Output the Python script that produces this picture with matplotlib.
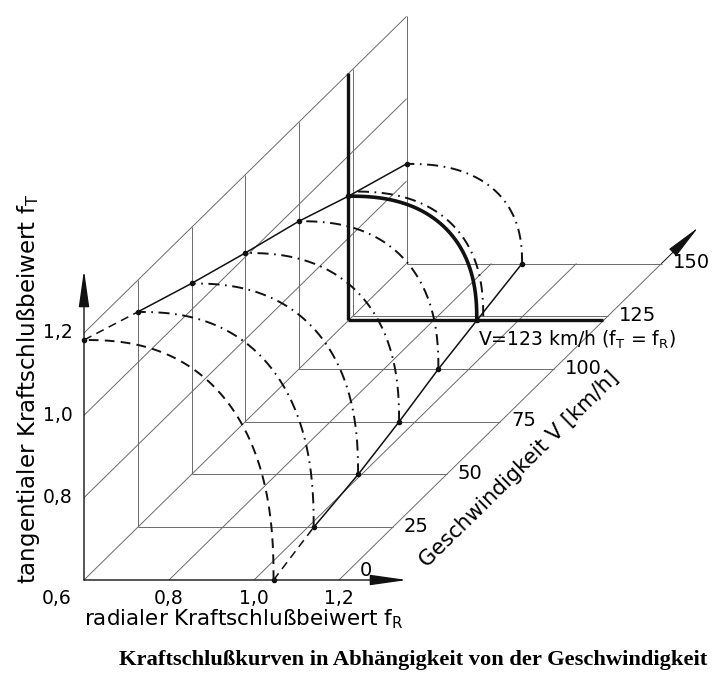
import numpy as np
import matplotlib

matplotlib.use("Agg")
import matplotlib.pyplot as plt

plt.rcParams.update(
    {
        "font.family": "DejaVu Sans",
        "lines.scale_dashes": False,
        "figure.facecolor": "white",
        "savefig.facecolor": "white",
    }
)

# friction limit curves, one per speed (km/h)
speeds = [0, 25, 50, 75, 100, 123, 125, 150]
ft_max = [1.183, 1.123, 1.064, 1.010, 0.959, 0.902, 0.903, 0.842]
fr_max = [1.046, 1.014, 0.992, 0.962, 0.928, 0.902, 0.907, 0.872]
curve_kind = ["dash", "dashdot", "dashdot", "dashdot", "dashdot", "thick", "dashdot", "dashdot"]

# envelope of the curve end points (V=125 lies on top of V=123)
env_speeds = [0, 25, 50, 75, 100, 123, 150]

grid_speeds = [0, 25, 50, 75, 100, 125, 150]
fr_ticks = [0.6, 0.8, 1.0, 1.2]
fr_ticklabels = ["0,6", "0,8", "1,0", "1,2"]
ft_ticks = [0.6, 0.8, 1.0, 1.2]
ft_ticklabels = ["0,6", "0,8", "1,0", "1,2"]
v_ticklabels = ["0", "25", "50", "75", "100", "125", "150"]

F0 = 0.6          # corner of the diagram
F_TOP = 1.2       # height of the back wall / depth of the floor
FR_ARROW = 1.36
FT_ARROW = 1.353
V_ARROW = 167
V_MAX = 150

# oblique projection: one km/h moves the plane by (CX, CY) in f units
CX = 2.15 / 425.0
CY = 2.11 / 411.7
SHAPE_N = 2.4

GRID = dict(color="#6a6a6a", lw=0.7, solid_capstyle="butt")
INK = "#111111"


def proj(fr, ft, v):
    fr = np.asarray(fr, dtype=float)
    ft = np.asarray(ft, dtype=float)
    v = np.asarray(v, dtype=float)
    return fr + v * CX, ft + v * CY


def line3(ax, p0, p1, **kw):
    x0, y0 = proj(*p0)
    x1, y1 = proj(*p1)
    ax.plot([x0, x1], [y0, y1], **kw)


def limit_curve(a_r, a_t, v, npts=200):
    t = np.linspace(0.0, np.pi / 2, npts)
    fr = F0 + (a_r - F0) * np.cos(t) ** (2.0 / SHAPE_N)
    ft = F0 + (a_t - F0) * np.sin(t) ** (2.0 / SHAPE_N)
    return proj(fr, ft, v)


fig = plt.figure(figsize=(7.12, 6.73), dpi=100)
ax = fig.add_axes([0, 0, 1, 1])
ax.set_xlim(F0 - 84 / 425.0, F0 + (712 - 84) / 425.0)
ax.set_ylim(F0 - 93 / 411.7, F0 + 580 / 411.7)
ax.axis("off")

# floor diagonals (constant f_R) and wall diagonals (constant f_T)
for fr in fr_ticks[:-1]:
    line3(ax, (fr, F0, 0), (fr, F0, V_MAX), **GRID)
for ft in ft_ticks[1:]:
    line3(ax, (F0, ft, 0), (F0, ft, V_MAX), **GRID)

# per-speed frame: floor line and wall line
for v in grid_speeds[1:]:
    line3(ax, (F0, F0, v), (F_TOP, F0, v), **GRID)
    line3(ax, (F0, F0, v), (F0, F_TOP, v), **GRID)

# axes with arrows
arrow = dict(arrowstyle="-|>,head_length=1.9,head_width=0.27", color=INK, lw=1.0,
             mutation_scale=12, shrinkA=0, shrinkB=0)
ax.annotate("", xy=proj(FR_ARROW, F0, 0), xytext=proj(F0, F0, 0), arrowprops=arrow)
ax.annotate("", xy=proj(F0, FT_ARROW, 0), xytext=proj(F0, F0, 0), arrowprops=arrow)
line3(ax, (F_TOP, F0, 0), (F_TOP, F0, V_MAX), **GRID)
ax.annotate("", xy=proj(F_TOP, F0, V_ARROW), xytext=proj(F_TOP, F0, V_MAX),
            arrowprops=dict(arrow, lw=0.7))

# highlighted plane at V = 123 km/h
v_eq = speeds[curve_kind.index("thick")]
line3(ax, (F0, F0, v_eq), (F_TOP, F0, v_eq), color=INK, lw=2.4, solid_capstyle="butt")
line3(ax, (F0, F0, v_eq), (F0, F_TOP, v_eq), color=INK, lw=2.4, solid_capstyle="butt")

# limit curves
for v, a_t, a_r, kind in zip(speeds, ft_max, fr_max, curve_kind):
    x, y = limit_curve(a_r, a_t, v)
    if kind == "thick":
        ax.plot(x, y, color=INK, lw=2.6)
    elif kind == "dash":
        ax.plot(x, y, color=INK, lw=1.4, dashes=(7, 4.5))
    else:
        ax.plot(x, y, color=INK, lw=1.4, dashes=(8, 4, 1.2, 4))

# envelopes on the wall (f_T max) and on the floor (f_R max)
env_t = [ft_max[speeds.index(v)] for v in env_speeds]
env_r = [fr_max[speeds.index(v)] for v in env_speeds]
top_x, top_y = proj([F0] * len(env_speeds), env_t, env_speeds)
bot_x, bot_y = proj(env_r, [F0] * len(env_speeds), env_speeds)
for xs, ys in ((top_x, top_y), (bot_x, bot_y)):
    ax.plot(xs[:2], ys[:2], color=INK, lw=1.1, dashes=(6, 4))
    ax.plot(xs[1:], ys[1:], color=INK, lw=1.1)
    ax.plot(xs, ys, ls="none", marker="o", ms=3.0, color=INK)

# tick labels
TICK_FS = 13.5
for fr, lab in zip(fr_ticks[1:], fr_ticklabels[1:]):
    ax.annotate(lab, xy=proj(fr, F0, 0), xytext=(0, -18), textcoords="offset pixels",
                ha="center", va="center", fontsize=TICK_FS)
for ft, lab in zip(ft_ticks[1:], ft_ticklabels[1:]):
    ax.annotate(lab, xy=proj(F0, ft, 0), xytext=(-26, 0), textcoords="offset pixels",
                ha="center", va="center", fontsize=TICK_FS)
ax.annotate(ft_ticklabels[0], xy=proj(F0, F0, 0), xytext=(-27, -18), textcoords="offset pixels",
            ha="center", va="center", fontsize=TICK_FS)
for v, lab in zip(grid_speeds, v_ticklabels):
    dx, dy = (21, 10) if v == 0 else (11, 1)
    ax.annotate(lab, xy=proj(F_TOP, F0, v), xytext=(dx, dy), textcoords="offset pixels",
                ha="left", va="center", fontsize=14)

# axis titles
ax.annotate(r"radialer Kraftschlußbeiwert f$_\mathregular{R}$", xy=proj(F0, F0, 0),
            xytext=(0, -39), textcoords="offset pixels", ha="left", va="center", fontsize=15.5)
ax.annotate(r"tangentialer Kraftschlußbeiwert f$_\mathregular{T}$", xy=proj(F0, F0, 0),
            xytext=(-56, -4), textcoords="offset pixels", ha="left", va="center",
            rotation=90, rotation_mode="anchor", fontsize=16.5)
ax.annotate("Geschwindigkeit V [km/h]", xy=proj(F_TOP, F0, 75), xytext=(19, -47),
            textcoords="offset pixels", ha="center", va="center",
            rotation=44.5, rotation_mode="anchor", fontsize=15.2)
ax.annotate(r"V=123 km/h (f$_\mathregular{T}$ = f$_\mathregular{R}$)",
            xy=proj(fr_max[speeds.index(v_eq)], F0, v_eq), xytext=(1, -19),
            textcoords="offset pixels", ha="left", va="center", fontsize=13.5)

fig.text(413 / 712, 1 - 660 / 673, "Kraftschlußkurven in Abhängigkeit von der Geschwindigkeit",
         ha="center", va="center", fontsize=16.2, fontweight="bold",
         family="Liberation Serif")

fig.savefig("out.png", dpi=100)
